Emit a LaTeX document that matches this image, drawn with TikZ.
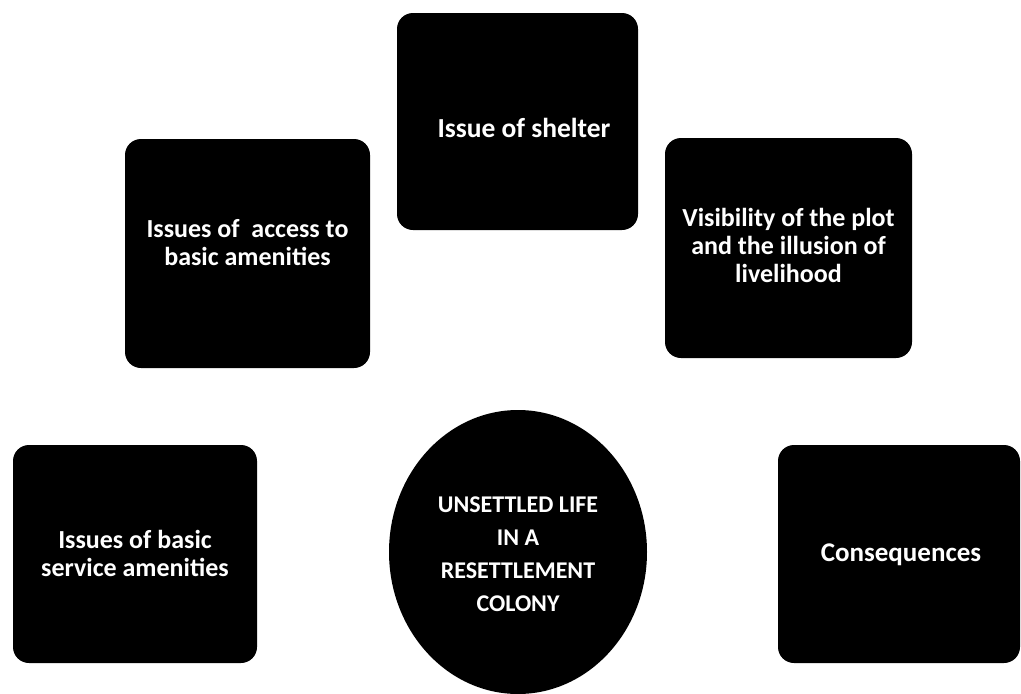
\documentclass[tikz,border=0pt]{standalone}
\usepackage{fontspec}
\setmainfont{Carlito}
\usetikzlibrary{shapes.geometric}
\begin{document}
\begin{tikzpicture}[x=1pt,y=-1pt,
  box/.style={fill=black, rounded corners=16pt, inner sep=0pt, outer sep=0pt},
  oval/.style={ellipse, fill=black, inner sep=0pt, outer sep=0pt},
  lbl/.style={text=white, font=\fontsize{26}{28}\selectfont\bfseries, align=center, inner sep=0pt},
  clbl/.style={text=white, font=\fontsize{24}{33}\selectfont\bfseries, align=center, inner sep=0pt}]
\useasboundingbox (0,0) rectangle (1021,694);
% boxes
\node[box, minimum width=241pt, minimum height=217pt] (shelter) at (517.5,121.5) {};
\node[box, minimum width=245pt, minimum height=229pt] (access) at (247.5,253.5) {};
\node[box, minimum width=247pt, minimum height=220pt] (plot) at (788.5,248) {};
\node[box, minimum width=244pt, minimum height=218pt] (service) at (135,554) {};
\node[box, minimum width=242pt, minimum height=218pt] (conseq) at (899,554) {};
\node[oval, minimum width=258pt, minimum height=284pt] (core) at (518,552) {};
% labels
\node[lbl, font=\fontsize{27.5}{28}\selectfont\bfseries] (tshelter) at (524,128) {Issue of shelter};
\node[lbl] (taccess) at (247.5,243) {Issues of \ access to\\basic amenities};
\node[lbl] (tplot) at (788.5,245) {Visibility of the plot\\and the illusion of\\livelihood};
\node[lbl] (tservice) at (135,553) {Issues of basic\\service amenities};
\node[lbl, font=\fontsize{27}{28}\selectfont\bfseries] (tconseq) at (901,555) {Consequences};
\node[clbl] (tcore) at (518,554) {UNSETTLED LIFE\\IN A\\RESETTLEMENT\\COLONY};
\end{tikzpicture}
\end{document}
